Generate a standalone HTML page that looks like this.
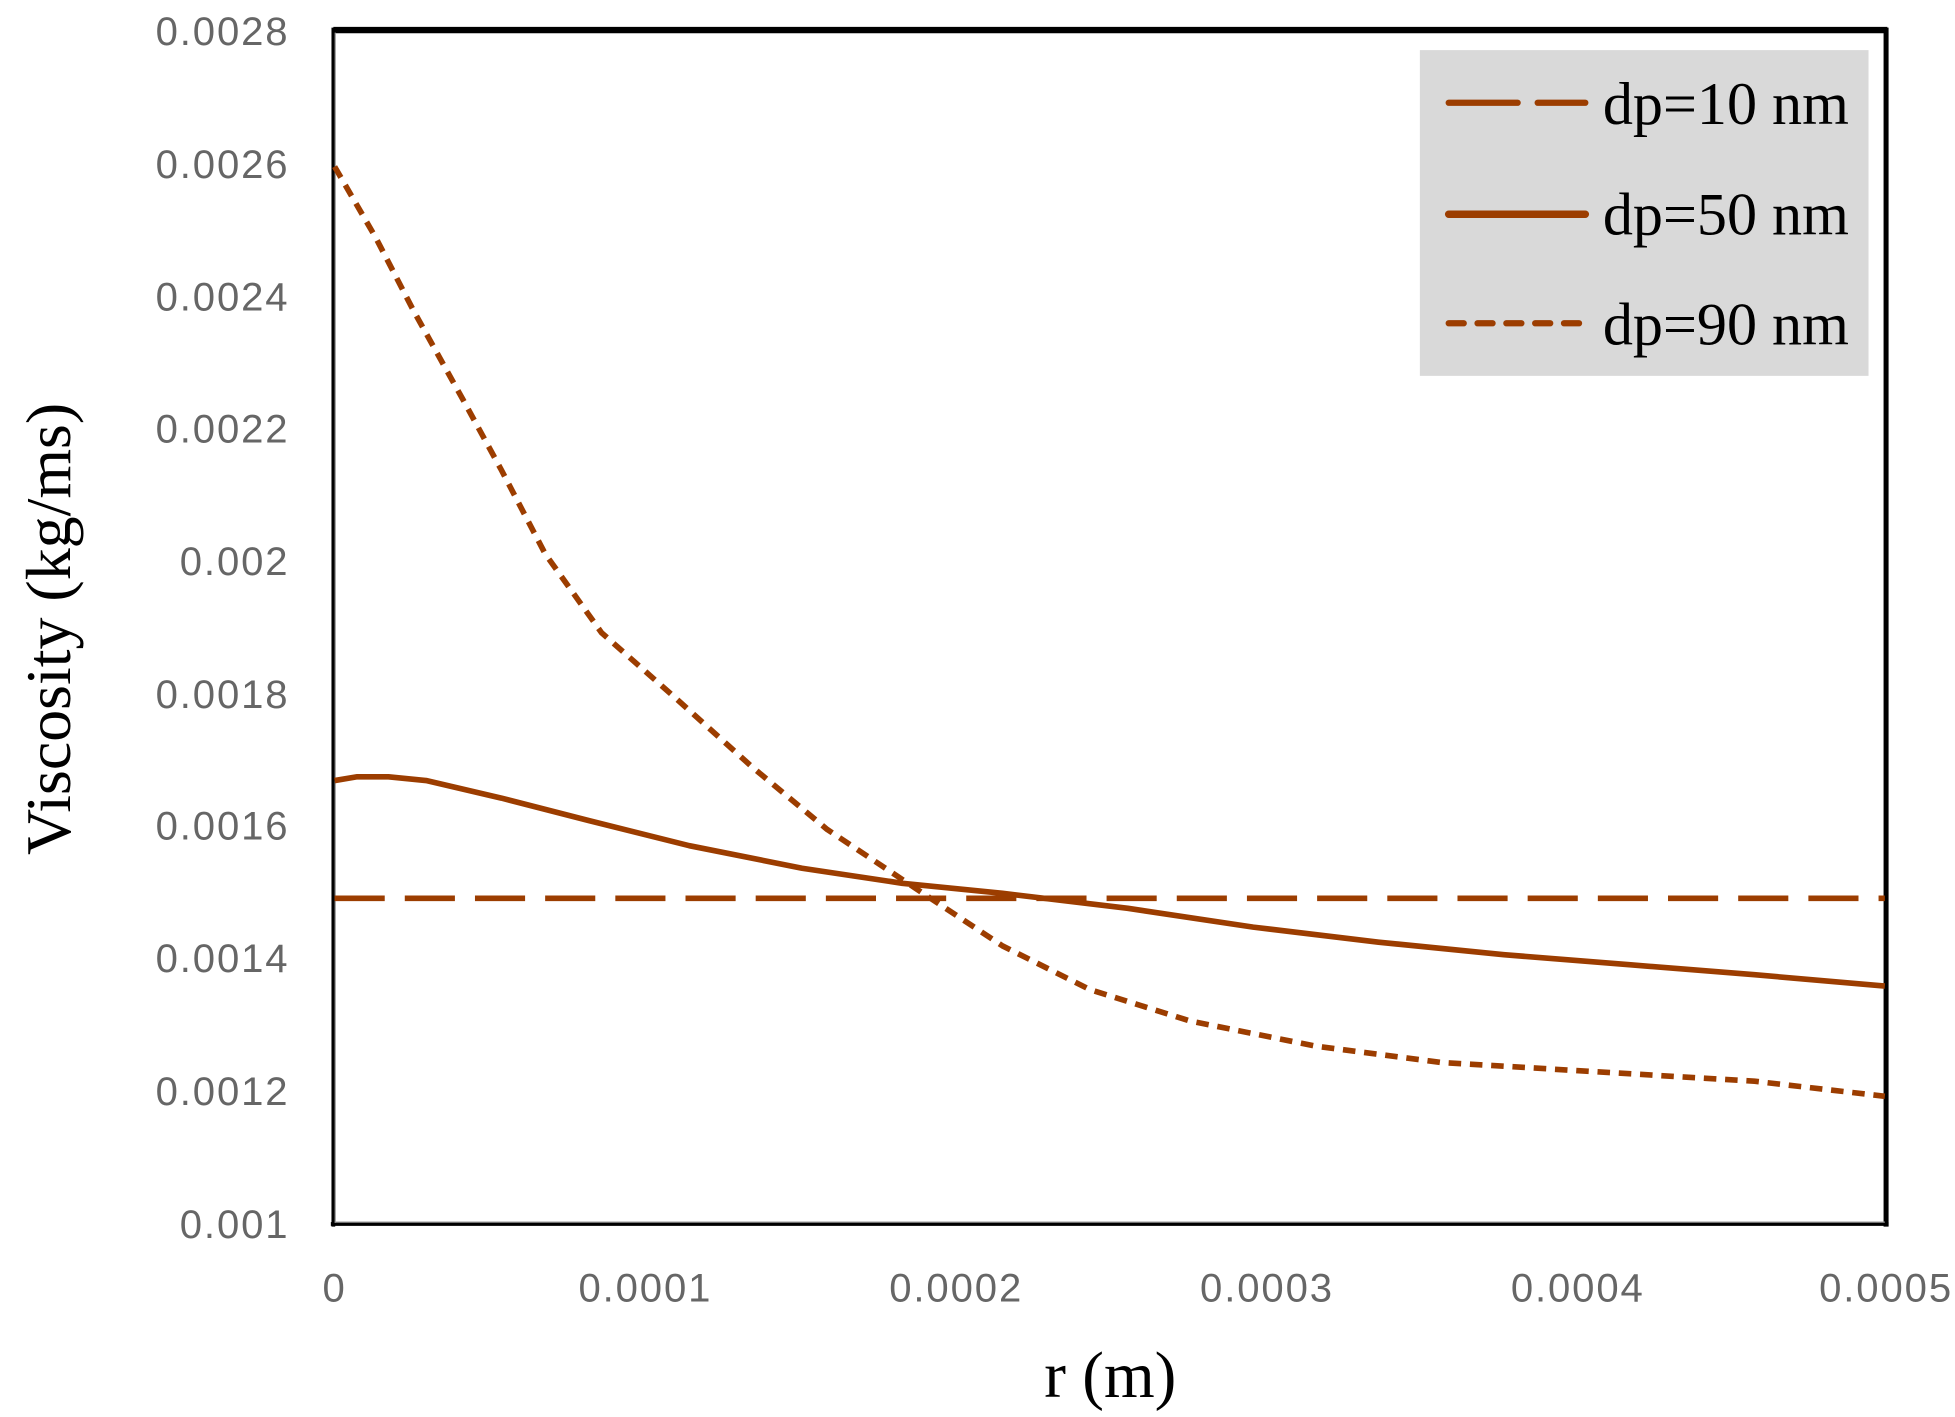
<!DOCTYPE html>
<html><head><meta charset="utf-8"><style>
html,body{margin:0;padding:0;background:#fff;width:1955px;height:1417px;overflow:hidden}
</style></head><body>
<svg width="1955" height="1417" viewBox="0 0 1560 1131" preserveAspectRatio="none" xmlns="http://www.w3.org/2000/svg">
<rect x="0" y="0" width="1560" height="1131" fill="#fff"/>
<!-- frame -->
<line x1="266" y1="24" x2="1506" y2="24" stroke="#000" stroke-width="5"/>
<line x1="1505" y1="22" x2="1505" y2="979" stroke="#000" stroke-width="4"/>
<line x1="266" y1="22" x2="266" y2="979" stroke="#000" stroke-width="3"/>
<line x1="264" y1="977" x2="1507" y2="977" stroke="#000" stroke-width="3"/>
<line x1="267.5" y1="26" x2="267.5" y2="976" stroke="#999" stroke-width="1"/>
<line x1="267" y1="975.5" x2="1504" y2="975.5" stroke="#999" stroke-width="1"/>
<!-- y ticks -->
<g font-family="Liberation Sans, sans-serif" font-size="32" fill="#666" letter-spacing="1.5" text-anchor="end">
<text x="231" y="36">0.0028</text>
<text x="231" y="142">0.0026</text>
<text x="231" y="248">0.0024</text>
<text x="231" y="353">0.0022</text>
<text x="231" y="459">0.002</text>
<text x="231" y="565">0.0018</text>
<text x="231" y="670">0.0016</text>
<text x="231" y="776">0.0014</text>
<text x="231" y="882">0.0012</text>
<text x="231" y="988">0.001</text>
</g>
<g font-family="Liberation Sans, sans-serif" font-size="32" fill="#666" letter-spacing="1.5" text-anchor="middle">
<text x="267" y="1039">0</text>
<text x="515" y="1039">0.0001</text>
<text x="763" y="1039">0.0002</text>
<text x="1011" y="1039">0.0003</text>
<text x="1259" y="1039">0.0004</text>
<text x="1505" y="1039">0.0005</text>
</g>
<text x="886" y="1115" font-family="Liberation Serif, serif" font-size="52" text-anchor="middle" fill="#000">r (m)</text>
<text transform="translate(56,502) rotate(-90)" font-family="Liberation Serif, serif" font-size="51" text-anchor="middle" fill="#000">Viscosity (kg/ms)</text>
<!-- series -->
<g fill="none" stroke="#9c3d00" stroke-linecap="butt" stroke-linejoin="round">
<line x1="267" y1="717" x2="1504" y2="717" stroke-width="4.5" stroke-dasharray="40,16"/>
<polyline stroke-width="4.5" points="267,623 285,620 310,620 340,623 400,637 470,655 550,675 640,693 720,705 800,713 900,725 1000,740 1100,752 1200,762 1300,770 1400,778 1504,787"/>
<polyline stroke-width="4.5" stroke-dasharray="10,7" points="267,133 300,190 330,248 370,320 400,375 435,442 480,505 540,558 600,612 660,662 735,712 800,755 870,790 950,815 1050,835 1150,848 1300,857 1400,863 1504,875"/>
</g>
<!-- legend -->
<rect x="1133" y="40" width="358" height="260" fill="#d9d9d9"/>
<g stroke="#9c3d00" stroke-width="5" fill="none" stroke-linecap="round">
<line x1="1156" y1="82" x2="1211" y2="82"/><line x1="1227" y1="82" x2="1265" y2="82"/>
<line x1="1156" y1="171" x2="1265" y2="171" stroke-width="6"/>
<line x1="1156" y1="258" x2="1265" y2="258" stroke-dasharray="12,11"/>
</g>
<g font-family="Liberation Serif, serif" font-size="48" fill="#000">
<text x="1279" y="99">dp=10 nm</text>
<text x="1279" y="187">dp=50 nm</text>
<text x="1279" y="275">dp=90 nm</text>
</g>
</svg>
</body></html>
